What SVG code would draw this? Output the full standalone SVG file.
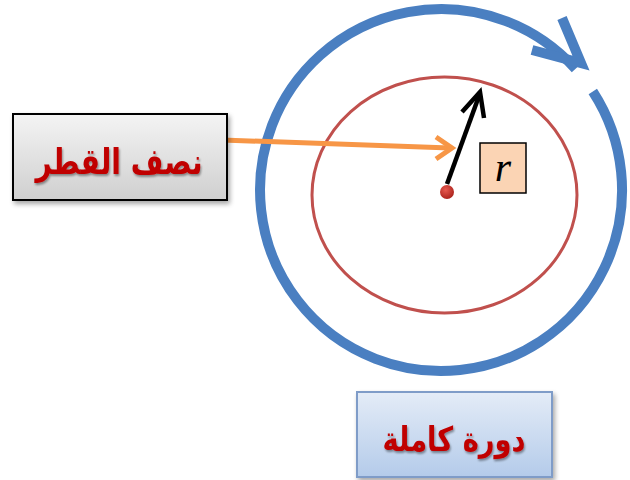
<svg xmlns="http://www.w3.org/2000/svg" width="630" height="480" viewBox="0 0 630 480">
  <defs>
    <linearGradient id="grayFill" x1="0" y1="0" x2="0" y2="1">
      <stop offset="0" stop-color="#f4f4f4"/>
      <stop offset="1" stop-color="#cfcfcf"/>
    </linearGradient>
    <linearGradient id="blueFill" x1="0" y1="0" x2="0" y2="1">
      <stop offset="0" stop-color="#e4ecf7"/>
      <stop offset="1" stop-color="#b4cbea"/>
    </linearGradient>
    <radialGradient id="dotFill" cx="0.4" cy="0.35" r="0.7">
      <stop offset="0" stop-color="#e85a50"/>
      <stop offset="1" stop-color="#a8201a"/>
    </radialGradient>
    <filter id="shadow" x="-10%" y="-10%" width="125%" height="130%">
      <feGaussianBlur in="SourceAlpha" stdDeviation="2.5"/>
      <feOffset dx="2" dy="3" result="b"/>
      <feComponentTransfer><feFuncA type="linear" slope="0.35"/></feComponentTransfer>
      <feMerge><feMergeNode/><feMergeNode in="SourceGraphic"/></feMerge>
    </filter>
    <filter id="tshadow" x="-10%" y="-20%" width="120%" height="150%">
      <feGaussianBlur in="SourceAlpha" stdDeviation="1"/>
      <feOffset dx="1" dy="1.5"/>
      <feComponentTransfer><feFuncA type="linear" slope="0.4"/></feComponentTransfer>
      <feMerge><feMergeNode/><feMergeNode in="SourceGraphic"/></feMerge>
    </filter>
  </defs>
  <style>
    .lbl { font-family: "DejaVu Sans", sans-serif; font-weight: bold; fill: #c00000; text-anchor: middle; }
    .blue { fill: none; stroke: #4a7fc1; stroke-width: 10; }
  </style>
  <rect width="630" height="480" fill="#ffffff"/>

  <g id="outer-circle">
    <path class="blue" d="M 592.8 91.42 A 181 181 0 1 1 575.5 68.89"/>
    <polyline class="blue" points="562,18 581,63 532,50" stroke-linejoin="miter" stroke-miterlimit="10"/>
  </g>

  <g id="inner-circle">
    <ellipse cx="444.5" cy="195" rx="132.5" ry="118" fill="none" stroke="#c0504d" stroke-width="3"/>
  </g>

  <g id="center-dot">
    <circle cx="447" cy="192" r="7" fill="url(#dotFill)"/>
  </g>

  <g id="connectors">
    <line x1="222" y1="140" x2="450" y2="148" stroke="#f79646" stroke-width="5"/>
    <polyline points="436,137 452,148 436,159" fill="none" stroke="#f79646" stroke-width="5" stroke-linejoin="miter"/>
    <line x1="447" y1="184" x2="479" y2="96" stroke="#000000" stroke-width="4.5"/>
    <polyline points="462,112 480,92 484,118" fill="none" stroke="#000000" stroke-width="4.5" stroke-linejoin="miter"/>
  </g>

  <g id="radius-label">
    <rect x="13" y="114" width="214" height="86" fill="url(#grayFill)" stroke="#000000" stroke-width="2" filter="url(#shadow)"/>
    <text class="lbl" x="119" y="174" font-size="36" textLength="167" lengthAdjust="spacingAndGlyphs" filter="url(#tshadow)">نصف القطر</text>
  </g>

  <g id="r-label">
    <rect x="480" y="143" width="46" height="50" fill="#fbd4b4" stroke="#000000" stroke-width="1.5"/>
    <text x="503" y="181" font-family="Liberation Serif, serif" font-style="italic" font-size="42" text-anchor="middle" fill="#000000">r</text>
  </g>

  <g id="full-turn-label">
    <rect x="357" y="392" width="195" height="85" fill="url(#blueFill)" stroke="#7f9cc8" stroke-width="2" filter="url(#shadow)"/>
    <text class="lbl" x="454" y="451" font-size="34" textLength="143" lengthAdjust="spacingAndGlyphs" filter="url(#tshadow)">دورة كاملة</text>
  </g>
</svg>
